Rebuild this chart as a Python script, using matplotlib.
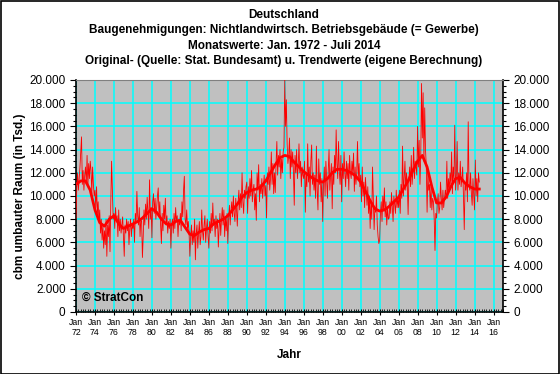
import matplotlib
matplotlib.use("Agg")
import matplotlib.pyplot as plt
from matplotlib.ticker import MultipleLocator, FuncFormatter, FixedLocator
import numpy as np

plt.rcParams['font.family'] = ['Liberation Sans', 'DejaVu Sans']

# monthly permits, Jan 1972 - Jul 2014 (Tsd. cbm), one row per year
raw_by_year = {
    1972: [8.0, 10.8, 12.0, 10.5, 11.5, 12.5, 13.8, 15.1, 11.0, 12.2, 10.5, 11.8],
    1973: [12.5, 11.0, 13.5, 10.8, 12.8, 11.5, 13.0, 12.2, 10.2, 12.5, 11.0, 10.0],
    1974: [10.5, 9.0, 10.8, 8.5, 9.5, 7.8, 8.8, 6.8, 8.0, 6.2, 7.5, 5.5],
    1975: [7.0, 5.8, 8.0, 4.8, 7.5, 6.5, 8.3, 5.2, 9.5, 13.0, 10.5, 8.0],
    1976: [8.5, 7.2, 9.0, 7.8, 8.3, 6.5, 8.8, 7.0, 8.0, 6.8, 7.5, 8.2],
    1977: [6.5, 4.8, 7.5, 6.8, 8.0, 7.0, 7.8, 5.8, 7.2, 8.0, 6.5, 7.5],
    1978: [7.2, 8.0, 6.0, 8.5, 7.8, 10.4, 8.3, 7.5, 9.0, 6.5, 8.0, 7.8],
    1979: [4.7, 6.5, 8.8, 7.5, 9.3, 8.0, 9.9, 8.5, 7.2, 11.4, 8.0, 9.0],
    1980: [6.4, 9.5, 10.2, 8.5, 9.8, 8.0, 9.0, 10.0, 10.7, 8.2, 9.5, 7.5],
    1981: [5.9, 8.5, 7.0, 9.2, 8.0, 9.8, 7.5, 8.3, 6.8, 7.8, 7.2, 8.0],
    1982: [5.5, 7.5, 8.0, 6.8, 8.5, 7.2, 9.0, 7.8, 8.3, 6.5, 8.0, 7.5],
    1983: [8.5, 7.0, 9.5, 8.2, 10.5, 11.7, 8.0, 7.5, 8.8, 7.2, 7.8, 6.8],
    1984: [4.8, 6.5, 7.5, 5.8, 7.0, 6.0, 8.0, 4.5, 6.8, 7.5, 5.5, 6.8],
    1985: [7.8, 5.8, 6.5, 8.8, 7.0, 6.2, 7.5, 8.3, 6.0, 7.2, 8.0, 6.5],
    1986: [5.5, 7.8, 6.8, 8.5, 7.0, 9.4, 7.5, 8.0, 6.5, 8.3, 7.2, 8.0],
    1987: [5.6, 7.2, 8.5, 6.6, 8.0, 9.0, 7.5, 8.8, 6.5, 8.2, 7.0, 8.5],
    1988: [5.9, 8.0, 9.2, 7.5, 8.8, 9.5, 8.2, 10.0, 8.5, 7.8, 9.8, 8.8],
    1989: [7.4, 9.5, 10.5, 8.8, 10.2, 9.0, 12.0, 9.5, 8.5, 10.5, 9.8, 10.8],
    1990: [11.2, 8.5, 10.8, 9.8, 11.5, 10.0, 12.2, 9.5, 10.5, 11.0, 8.8, 10.2],
    1991: [7.9, 12.0, 10.5, 12.7, 9.5, 11.0, 10.2, 11.5, 9.8, 10.8, 11.8, 10.0],
    1992: [10.9, 8.1, 12.0, 11.0, 12.5, 10.5, 11.5, 13.8, 11.0, 12.8, 10.2, 12.0],
    1993: [10.3, 12.8, 14.7, 11.8, 13.5, 12.5, 14.0, 11.5, 13.2, 12.0, 13.8, 14.2],
    1994: [20.0, 16.0, 18.3, 14.5, 12.8, 13.5, 15.0, 11.5, 14.0, 12.5, 13.8, 12.0],
    1995: [9.2, 13.5, 12.0, 14.0, 11.5, 12.5, 14.5, 12.0, 13.0, 10.8, 12.5, 11.8],
    1996: [11.5, 13.0, 8.6, 12.0, 10.8, 14.5, 11.2, 12.5, 10.0, 13.0, 14.4, 11.0],
    1997: [12.0, 10.5, 11.8, 9.8, 14.3, 10.5, 8.8, 13.2, 11.0, 12.0, 9.5, 11.5],
    1998: [7.8, 11.0, 12.5, 10.0, 13.0, 11.5, 9.8, 12.2, 14.0, 10.5, 11.8, 12.8],
    1999: [8.9, 12.5, 11.0, 13.5, 12.0, 15.7, 12.8, 11.5, 14.7, 12.2, 11.0, 13.5],
    2000: [9.5, 12.8, 11.5, 13.8, 12.0, 10.8, 13.0, 11.5, 12.8, 10.5, 13.5, 12.0],
    2001: [11.5, 13.0, 12.0, 13.7, 10.4, 12.5, 11.0, 12.0, 14.7, 11.5, 12.8, 10.8],
    2002: [11.8, 9.5, 12.5, 10.0, 11.2, 9.0, 11.6, 10.5, 9.2, 10.8, 8.5, 10.0],
    2003: [7.2, 9.5, 8.0, 12.5, 9.8, 7.1, 9.0, 8.6, 10.0, 7.5, 6.5, 5.9],
    2004: [6.2, 8.5, 9.5, 7.8, 10.0, 8.8, 10.7, 8.2, 9.5, 7.5, 9.0, 8.0],
    2005: [8.1, 9.5, 8.5, 10.3, 9.0, 7.8, 10.0, 9.2, 8.5, 10.5, 9.0, 9.8],
    2006: [9.0, 10.5, 8.5, 11.0, 9.8, 14.3, 10.0, 11.5, 13.0, 10.5, 12.0, 11.0],
    2007: [8.4, 11.5, 12.5, 10.8, 13.5, 11.0, 12.0, 14.2, 11.5, 13.0, 12.5, 11.8],
    2008: [16.0, 12.5, 14.8, 11.0, 13.5, 19.7, 15.0, 18.9, 13.0, 17.6, 14.0, 12.5],
    2009: [8.6, 12.0, 10.5, 11.0, 9.0, 10.8, 8.8, 9.8, 9.5, 8.0, 5.3, 8.5],
    2010: [8.1, 9.5, 10.2, 8.5, 9.0, 11.2, 9.8, 8.8, 10.5, 9.0, 9.8, 10.5],
    2011: [10.0, 13.0, 9.8, 11.5, 10.5, 12.0, 11.0, 13.8, 10.2, 12.5, 11.5, 16.1],
    2012: [10.5, 11.8, 14.7, 10.5, 12.0, 11.0, 13.0, 10.8, 11.5, 12.5, 10.0, 7.1],
    2013: [11.0, 10.5, 12.0, 9.5, 16.4, 11.0, 10.5, 12.0, 10.2, 9.2, 11.5, 10.0],
    2014: [8.8, 13.1, 10.0, 11.5, 9.5, 12.0, 11.2],
}

# trend values, half-yearly (Jan / Jul), 1972 - 2014
trend_values = [
    11.0, 11.3, 11.3, 10.5, 8.8, 7.7, 7.4, 8.0, 8.3, 7.6,
    7.2, 7.4, 7.6, 7.8, 8.1, 8.5, 8.9, 8.6, 8.0, 7.6,
    7.5, 7.8, 7.9, 7.3, 6.7, 6.6, 6.9, 7.1, 7.2, 7.6,
    7.8, 8.0, 8.3, 8.8, 9.3, 9.9, 10.3, 10.5, 10.6, 10.8,
    11.3, 12.0, 12.7, 13.3, 13.5, 13.4, 12.9, 12.5, 12.1, 11.8,
    11.5, 11.3, 11.2, 11.5, 12.0, 12.3, 12.3, 12.2, 12.0, 11.7,
    11.2, 10.4, 9.6, 8.9, 8.7, 8.8, 9.1, 9.5, 9.9, 10.6,
    11.3, 12.2, 13.0, 13.5, 12.5, 10.8, 9.4, 9.4, 9.9, 10.8,
    11.5, 11.6, 11.1, 10.8, 10.6, 10.6,
]

tick_years = list(range(1972, 2017, 2))

raw = []
for yr in sorted(raw_by_year):
    raw += raw_by_year[yr]
raw = np.array(raw) * 1000
x_raw = 1972 + np.arange(len(raw)) / 12.0
trend = np.array(trend_values) * 1000
x_trend = 1972 + np.arange(len(trend)) * 0.5

fig = plt.figure(figsize=(5.6, 3.74), dpi=100)
ax = fig.add_axes([76/560, 62/374, 427/560, 232/374])
ax.set_facecolor('#C0C0C0')

ax.plot(x_raw, raw, color='red', lw=0.6, zorder=3)
ax.plot(x_trend, trend, color='red', lw=2.0, zorder=4)

ax.set_xlim(1972, 2017)
ax.set_ylim(0, 20000)

ax.xaxis.set_major_locator(FixedLocator(tick_years))
ax.set_xticklabels(['Jan\n%02d' % (y % 100) for y in tick_years], fontsize=6.3)
ax.xaxis.set_minor_locator(MultipleLocator(0.25))
ax.yaxis.set_major_locator(MultipleLocator(2000))
ax.yaxis.set_minor_locator(MultipleLocator(500))
ax.yaxis.set_major_formatter(FuncFormatter(lambda v, p: f"{v:,.0f}".replace(",", ".")))

ax.tick_params(axis='y', which='both', left=True, right=True, labelleft=True,
               labelright=True, labelsize=8.5, direction='out', width=0.8)
ax.tick_params(axis='y', which='major', length=4)
ax.tick_params(axis='y', which='minor', length=2)
ax.tick_params(axis='x', which='major', length=4, direction='inout', pad=2)
ax.tick_params(axis='x', which='minor', length=2, direction='in')

ax.grid(True, which='major', color='#00FFFF', lw=1.1, zorder=1)
ax.set_axisbelow(True)
ax.spines['top'].set_color('#808080')
for s in ['left', 'right', 'bottom']:
    ax.spines[s].set_color('black')
    ax.spines[s].set_linewidth(1.2)

ax.set_xlabel('Jahr', fontsize=8.5, fontweight='bold', labelpad=9)
ax.set_ylabel('cbm umbauter Raum (in Tsd.)', fontsize=8.5, fontweight='bold', labelpad=2)

ax.text(0.015, 0.035, '\u00a9 StratCon', transform=ax.transAxes, fontsize=8.5,
        fontweight='bold', ha='left', va='bottom', zorder=5)

titles = ['Deutschland',
          'Baugenehmigungen: Nichtlandwirtsch. Betriebsgeb\u00e4ude (= Gewerbe)',
          'Monatswerte: Jan. 1972 - Juli 2014',
          'Original- (Quelle: Stat. Bundesamt) u. Trendwerte (eigene Berechnung)']
for i, t in enumerate(titles):
    fig.text(0.507, 1 - (15 + 15.3 * i) / 374, t, ha='center', va='center',
             fontsize=8.5, fontweight='bold')

fig.patches.append(plt.Rectangle((0.001, 0.001), 0.997, 0.996, transform=fig.transFigure,
                                 fill=False, edgecolor='black', lw=1.2))

fig.savefig('out.png', dpi=100)
